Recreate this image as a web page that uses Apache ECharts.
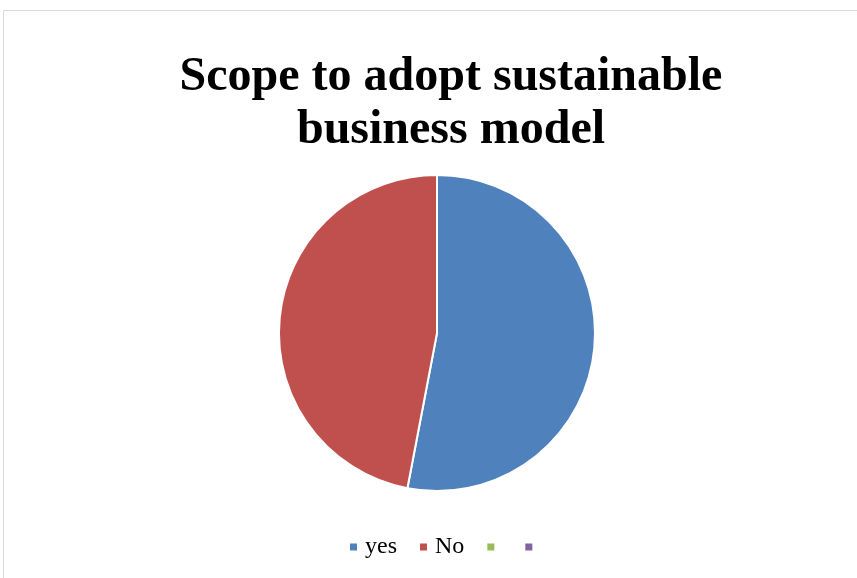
<!DOCTYPE html>
<html>
<head>
<meta charset="utf-8">
<script src="https://cdn.jsdelivr.net/npm/echarts@6/dist/echarts.min.js"></script>
<style>
body{margin:0;background:#fff;}
#main{width:857px;height:578px;}
</style>
</head>
<body>
<div id="main"></div>
<script>
var categories = ['yes', 'No', '\u200b', '\u200b\u200b'];
var values = [53, 47, 0, 0];
var colors = ['#4F81BD', '#C0504D', '#9BBB59', '#8064A2'];

var myChart = echarts.init(document.getElementById('main'));

var pieData = [];
for (var i = 0; i < categories.length; i++) {
    pieData.push({name: categories[i], value: values[i], itemStyle: {color: colors[i]}});
}

var option = {
    animation: false,
    graphic: [{
        type: 'rect',
        shape: {x: 3.5, y: 10.5, width: 900, height: 600},
        style: {fill: 'none', stroke: '#d9d9d9', lineWidth: 1},
        silent: true
    }],
    title: {
        text: 'Scope to adopt sustainable\nbusiness model',
        left: 446,
        textAlign: 'center',
        top: 46,
        textStyle: {
            fontFamily: 'Liberation Serif',
            fontWeight: 'bold',
            fontSize: 48,
            lineHeight: 53,
            color: '#000'
        }
    },
    legend: {
        data: categories,
        bottom: 14,
        left: 343,
        icon: 'rect',
        itemWidth: 9,
        itemHeight: 9,
        itemGap: 21,
        textStyle: {fontFamily: 'Liberation Serif', fontSize: 24, color: '#000', padding: [0, 0, 0, 2]}
    },
    series: [{
        type: 'pie',
        center: [437, 333],
        radius: 158,
        startAngle: 90,
        clockwise: true,
        label: {show: false},
        labelLine: {show: false},
        itemStyle: {borderColor: '#fff', borderWidth: 2},
        data: pieData
    }]
};
myChart.setOption(option);
</script>
</body>
</html>
